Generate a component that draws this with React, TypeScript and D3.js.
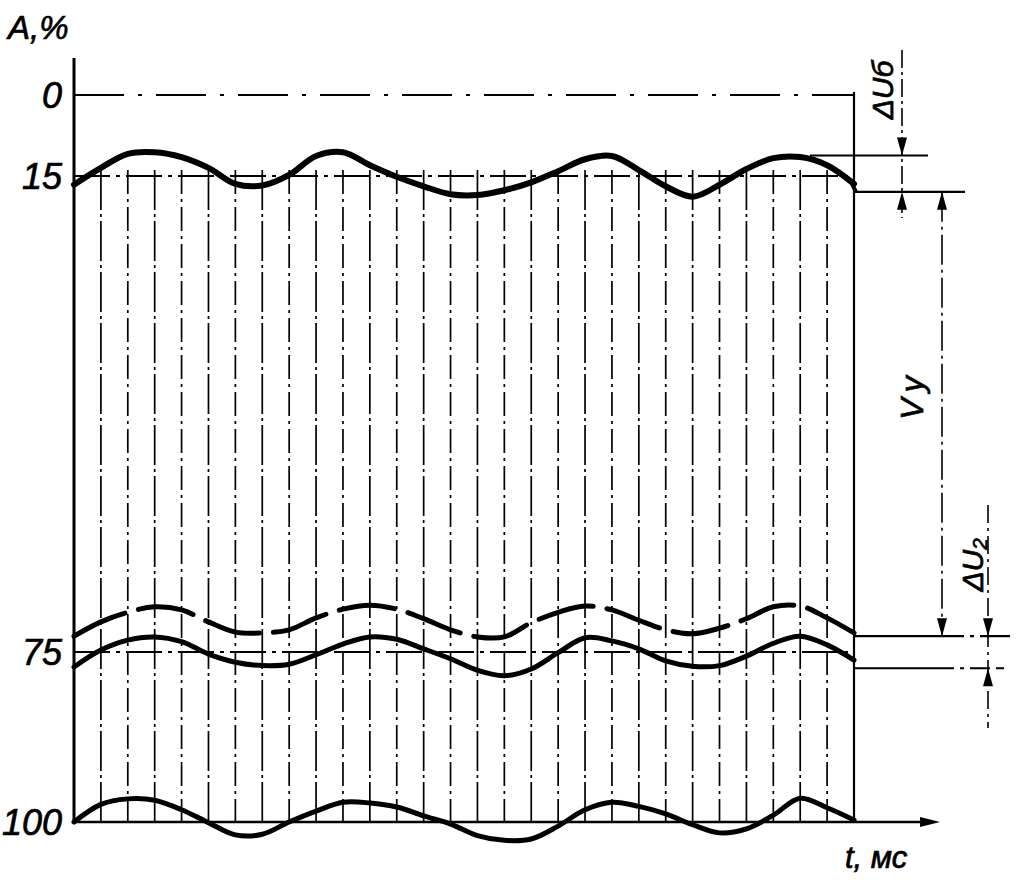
import React from "react";
import * as d3 from "d3";

// time samples (ms)
const T_MS = [0, 1, 2, 3, 4, 5, 6, 7, 8, 9, 10, 11, 12, 13, 14, 15, 16, 17, 18, 19, 20, 21, 22, 23, 24, 25, 26, 27, 28, 29];

// A, % — curve near 15 %
const TOP_CURVE = [16.1, 13.5, 10.9, 10.6, 11.5, 13.5, 16.0, 16.2, 14.8, 11.3, 10.6, 13.0, 15.1, 16.3, 17.3, 17.4, 16.8, 15.8, 14.1, 11.9, 11.3, 13.9, 16.3, 17.6, 16.1, 13.7, 11.7, 11.5, 13.0, 16.0];
// dashed curve above 75 %
const UPPER_DASHED = [73.0, 71.2, 70.0, 69.3, 69.7, 71.2, 72.5, 72.6, 72.2, 70.7, 69.6, 69.1, 69.6, 70.8, 72.2, 73.1, 73.1, 71.3, 70.0, 69.2, 69.7, 71.0, 72.2, 72.7, 72.0, 70.8, 69.3, 69.2, 70.7, 72.6];
// solid curve near 75 %
const MID_CURVE = [77.2, 74.75, 73.5, 73.1, 73.7, 75.3, 76.5, 77.0, 76.8, 75.4, 74.0, 73.1, 73.4, 74.6, 76.0, 77.7, 78.5, 77.5, 75.1, 73.2, 73.6, 74.6, 76.3, 77.1, 77.0, 75.6, 73.9, 73.0, 74.1, 76.2];
// curve near 100 %
const BOTTOM_CURVE = [100, 97.4, 96.6, 96.8, 98.2, 100.1, 101.9, 101.8, 100, 98.4, 97.1, 97.2, 97.8, 99.1, 100.3, 102.0, 102.7, 102.5, 100.6, 98.2, 97.1, 97.7, 98.8, 100.4, 101.6, 101.0, 99.0, 96.5, 97.9, 99.7];

const Y_TICKS = [0, 15, 75, 100];
const Y_TICK_LABELS = ["0", "15", "75", "100"];
const Y_LEVEL_LINES = [0, 15, 75];

// dimension levels (A, %)
const DU_B_LEVELS = [11.2, 17.0];
const DU_2_LEVELS = [73.0, 77.4];

const W = 1019;
const H = 886;
const FONT = "'Liberation Sans', 'DejaVu Sans', sans-serif";

export default function App() {
  const x = d3.scaleLinear().domain([0, 29]).range([74, 854]);
  const y = d3.scaleLinear().domain([0, 15, 75, 100]).range([95, 176, 652, 822]);

  const mk = (vals: number[]) =>
    d3
      .line<number>()
      .x((_, i) => x(T_MS[i]))
      .y((d) => y(d))
      .curve(d3.curveCatmullRom.alpha(0.5))(vals) as string;

  const xEnd = x(29);
  const yBase = y(100);

  const arrow = (cx: number, tip: number, dir: number, key: string) => (
    <polygon
      key={key}
      points={`${cx},${tip} ${cx - 5},${tip - dir * 18} ${cx + 5},${tip - dir * 18}`}
      fill="#000"
    />
  );

  const yb0 = y(DU_B_LEVELS[0]);
  const yb1 = y(DU_B_LEVELS[1]);
  const y20 = y(DU_2_LEVELS[0]);
  const y21 = y(DU_2_LEVELS[1]);

  const textProps = {
    fontFamily: FONT,
    fontStyle: "italic",
    fill: "#000",
    stroke: "#000",
    strokeWidth: 0.7,
  };

  return (
    <svg
      width={W}
      height={H}
      style={{ position: "absolute", left: 0, top: 0, background: "#fff" }}
    >
      <rect width={W} height={H} fill="#fff" />

      {/* vertical grid lines */}
      {T_MS.slice(1, -1).map((t) => (
        <line
          key={"g" + t}
          x1={x(t)}
          x2={x(t)}
          y1={y(15) - 6}
          y2={yBase}
          stroke="#000"
          strokeWidth={1.7}
          strokeDasharray={t % 2 === 0 ? "24 5 3 5" : "40 4 3 4"}
        />
      ))}

      {/* horizontal level lines */}
      {Y_LEVEL_LINES.map((v) => (
        <line
          key={"h" + v}
          x1={x(0)}
          x2={xEnd}
          y1={y(v)}
          y2={y(v)}
          stroke="#000"
          strokeWidth={v === 0 ? 1.8 : 2}
          strokeDasharray={v === 0 ? "50 14 4 14" : "36 6 4 6"}
        />
      ))}

      {/* axes */}
      <line x1={x(0)} x2={x(0)} y1={58} y2={yBase} stroke="#000" strokeWidth={3} />
      <line x1={x(0)} x2={926} y1={yBase} y2={yBase} stroke="#000" strokeWidth={2.5} />
      <polygon points={`940,${yBase} 920,${yBase - 5} 920,${yBase + 5}`} fill="#000" />
      <line x1={xEnd} x2={xEnd} y1={y(0) - 3} y2={yBase} stroke="#000" strokeWidth={2.2} />

      {/* curves */}
      <path d={mk(TOP_CURVE)} fill="none" stroke="#000" strokeWidth={6} strokeLinecap="round" />
      <path
        d={mk(UPPER_DASHED)}
        fill="none"
        stroke="#000"
        strokeWidth={5}
        strokeDasharray="56 14"
        strokeLinecap="round"
      />
      <path d={mk(MID_CURVE)} fill="none" stroke="#000" strokeWidth={5} strokeLinecap="round" />
      <path d={mk(BOTTOM_CURVE)} fill="none" stroke="#000" strokeWidth={5} strokeLinecap="round" />

      {/* ΔUб dimension */}
      <line x1={810} x2={928} y1={yb0} y2={yb0} stroke="#000" strokeWidth={2.2} />
      <line x1={xEnd} x2={965} y1={yb1} y2={yb1} stroke="#000" strokeWidth={2.2} />
      <line x1={xEnd - 2} x2={xEnd + 2} y1={y(TOP_CURVE[29])} y2={yb1} stroke="#000" strokeWidth={4} />
      <line x1={902} x2={902} y1={50} y2={218} stroke="#000" strokeWidth={1.6} strokeDasharray="18 4 3 4" />
      {arrow(902, yb0, 1, "a1")}
      {arrow(902, yb1, -1, "a2")}

      {/* Vу dimension */}
      <line x1={942} x2={942} y1={yb1} y2={y20} stroke="#000" strokeWidth={1.6} strokeDasharray="30 5 3 5" />
      {arrow(942, yb1, -1, "a3")}
      {arrow(942, y20, 1, "a4")}

      {/* ΔU2 dimension */}
      <line x1={xEnd} x2={1012} y1={y20} y2={y20} stroke="#000" strokeWidth={2.2} strokeDasharray="110 6 4 6 30 6" />
      <line x1={xEnd} x2={1004} y1={y21} y2={y21} stroke="#000" strokeWidth={2} strokeDasharray="100 6 4 6 20 6" />
      <line x1={988} x2={988} y1={505} y2={728} stroke="#000" strokeWidth={1.6} strokeDasharray="18 5 3 5" />
      {arrow(988, y20, 1, "a5")}
      {arrow(988, y21, -1, "a6")}

      {/* y tick labels */}
      {Y_TICKS.map((v, i) => (
        <text
          key={"yl" + v}
          x={62}
          y={y(v)}
          textAnchor="end"
          dominantBaseline="central"
          fontSize={36}
          {...textProps}
        >
          {Y_TICK_LABELS[i]}
        </text>
      ))}

      {/* axis titles */}
      <text x={8} y={39} fontSize={33} {...textProps}>
        A,%
      </text>
      <text x={845} y={868} fontSize={31} {...textProps}>
        t, мс
      </text>

      {/* dimension labels */}
      <text
        transform="translate(882,90) rotate(-90)"
        textAnchor="middle"
        dominantBaseline="central"
        fontSize={30}
        {...textProps}
      >
        ΔUб
      </text>
      <text
        transform="translate(912,395) rotate(-90)"
        textAnchor="middle"
        dominantBaseline="central"
        fontSize={32}
        letterSpacing={6}
        {...textProps}
      >
        Vу
      </text>
      <text
        transform="translate(972,565) rotate(-90)"
        textAnchor="middle"
        dominantBaseline="central"
        fontSize={30}
        {...textProps}
      >
        ΔU₂
      </text>
    </svg>
  );
}
